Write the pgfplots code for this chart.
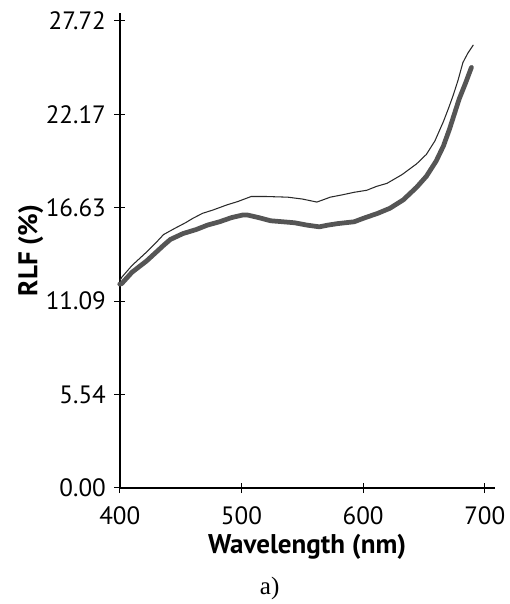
\documentclass[border=0pt]{standalone}
\usepackage{pgfplots}
\pgfplotsset{compat=1.18}
\usepackage{fontspec}
\setmainfont{PT Sans}
\newfontfamily\capfont{Liberation Serif}

\definecolor{thickgray}{HTML}{555555}
\definecolor{thingray}{HTML}{2A2A2A}

\begin{document}
\begin{tikzpicture}
\begin{axis}[
    scale only axis,
    width=284pt, height=360pt,
    xmin=400, xmax=708,
    ymin=0, ymax=28.2,
    axis lines*=left,
    axis line style={line width=1.4pt},
    xtick={400,500,600,700},
    ytick={0,5.54,11.09,16.63,22.17,27.72},
    yticklabels={0.00,{5.54\hspace{11pt}},11.09,16.63,22.17,27.72},
    tick align=center,
    major tick length=8pt,
    tick style={line width=0.8pt, black},
    tick label style={font=\fontsize{19}{22}\selectfont},
    xticklabel style={yshift=-7pt},
    yticklabel style={xshift=-3pt},
    /pgf/number format/assume math mode=true,
    xlabel={Wavelength (nm)},
    ylabel={RLF (\%)},
    label style={font=\bfseries\fontsize{20.5}{24}\selectfont},
    ylabel style={yshift=-5pt},
    clip=false,
]
% thick curve
\addplot[thickgray, line width=3.6pt, line join=round, line cap=round] coordinates {
(400,12.1) (401.6,12.13) (410,12.8) (422,13.47) (430,14.0) (436,14.4) (441.6,14.75)
(452,15.1) (462.9,15.34) (472,15.6) (482,15.8) (492,16.05) (501,16.2)
(505,16.2) (514,16.05) (524,15.86) (534,15.8) (543.7,15.74) (554,15.6)
(564,15.5) (571,15.6) (579,15.69) (592.7,15.8) (600,16.0) (612,16.3)
(622,16.6) (633,17.1) (644,17.85) (652,18.5) (660,19.4) (666,20.3)
(671,21.3) (675,22.2) (679,23.1) (684,24.0) (689,24.96)
};
% thin curve
\addplot[thingray, line width=0.8pt, line join=round] coordinates {
(400,12.3) (401.6,12.5) (410,13.2) (422,14.0) (429,14.5) (436,15.04)
(445,15.4) (454,15.74) (460,16.0) (468,16.3) (476.7,16.5) (488,16.8)
(497,17.0) (508,17.3) (520,17.3) (538,17.26) (550,17.15) (562,16.97)
(567,17.1) (573,17.26) (583,17.4) (592.7,17.55) (603,17.67) (611,17.9)
(619.6,18.08) (632,18.6) (644,19.24) (652,19.8) (659,20.6) (666,21.75)
(670,22.5) (674,23.3) (678,24.2) (682,25.25) (686,25.8) (690.6,26.3)
};
\coordinate (O) at (rel axis cs:0,0);
\coordinate (T) at (rel axis cs:1,1);
\node[font=\capfont\fontsize{19}{22}\selectfont] at ([yshift=-76pt]rel axis cs:0.40,0) {a)};
\end{axis}
\path ([xshift=-90.75pt,yshift=-83.25pt]O) rectangle ([xshift=5.25pt,yshift=9.75pt]T);
\end{tikzpicture}
\end{document}
